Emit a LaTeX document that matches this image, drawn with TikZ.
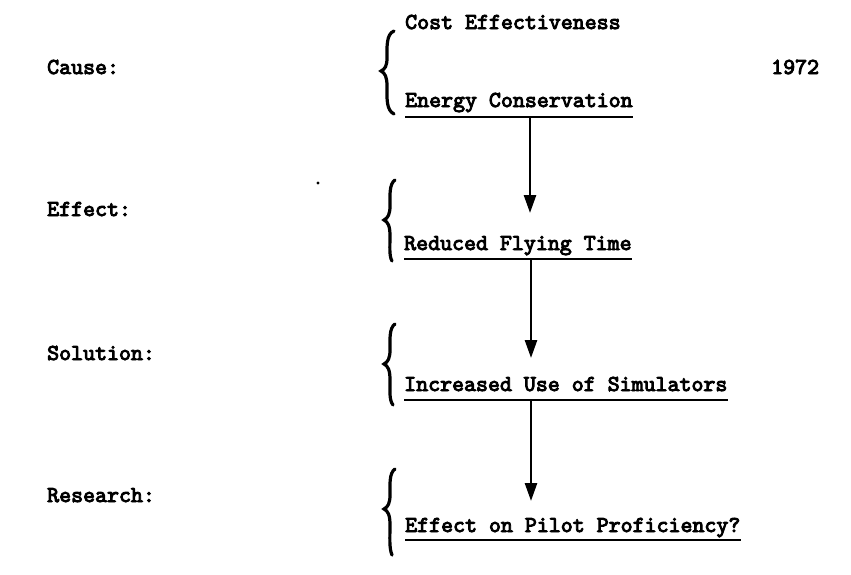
\documentclass[tikz,border=0pt]{standalone}
\usepackage{fontspec}
\usetikzlibrary{arrows.meta}
\newfontfamily\twfont[FakeBold=4]{lmmono10-regular.otf}
\begin{document}
\begin{tikzpicture}[x=1pt,y=-1pt,
  txt/.style={anchor=base west,inner sep=0pt,font=\twfont\fontsize{22.8}{23}\selectfont},
  uline/.style={line width=2.6pt},
  arr/.style={line width=2.6pt,-{Triangle[length=18pt,width=12pt]}},
  brc/.style={line width=3.2pt,line cap=round}]
\useasboundingbox[fill=white] (0,0) rectangle (851,574);
% left labels
\node[txt] (cause) at (47,74) {Cause:};
\node[txt] (effect) at (47,216) {Effect:};
\node[txt] (solution) at (47,360) {Solution:};
\node[txt] (research) at (47,502) {Research:};
% right texts
\node[txt] (cost) at (405,29) {Cost Effectiveness};
\node[txt] (energy) at (405,107) {Energy Conservation};
\node[txt] (year) at (771,74) {1972};
\node[txt] (reduced) at (404,250) {Reduced Flying Time};
\node[txt] (increased) at (404,391) {Increased Use of Simulators};
\node[txt] (pilot) at (405,532) {Effect on Pilot Proficiency?};
% underlines
\draw[uline] ([yshift=-10pt]energy.base west) -- ([yshift=-10pt]energy.base east);
\draw[uline] ([yshift=-9pt]reduced.base west) -- ([yshift=-9pt]reduced.base east);
\draw[uline] ([yshift=-9pt]increased.base west) -- ([yshift=-9pt]increased.base east);
\draw[uline] ([yshift=-8pt]pilot.base west) -- ([yshift=-8pt]pilot.base east);
% arrows
\coordinate (a1s) at (530,117);
\coordinate (a1e) at (530,213);
\coordinate (a2s) at (531,259);
\coordinate (a2e) at (531,358);
\coordinate (a3s) at (531,400);
\coordinate (a3e) at (531,501);
\draw[arr] (a1s) -- (a1e);
\draw[arr] (a2s) -- (a2e);
\draw[arr] (a3s) -- (a3e);
% braces
\draw[brc] (394,31) .. controls (386,34) and (387,48) .. (387,58) .. controls (387,66) and (385,69) .. (381,71)
  .. controls (385,73) and (387,77) .. (387,86) .. controls (387,98) and (386,110) .. (394,114);
\draw[brc] (395,180) .. controls (389,184) and (390,196) .. (390,206) .. controls (390,214) and (388,218) .. (384,220)
  .. controls (388,222) and (390,226) .. (390,236) .. controls (390,246) and (389,256) .. (392,261);
\draw[brc] (395,324) .. controls (389,328) and (390,340) .. (390,350) .. controls (390,358) and (388,362) .. (384,364)
  .. controls (388,366) and (390,370) .. (390,380) .. controls (390,390) and (389,400) .. (393,405);
\draw[brc] (395,469) .. controls (389,473) and (390,485) .. (390,495) .. controls (390,503) and (388,507) .. (384,509)
  .. controls (388,511) and (390,515) .. (390,525) .. controls (390,537) and (389,548) .. (392,555);
% stray dot
\fill (318,183) circle (1.6pt);
\end{tikzpicture}
\end{document}
